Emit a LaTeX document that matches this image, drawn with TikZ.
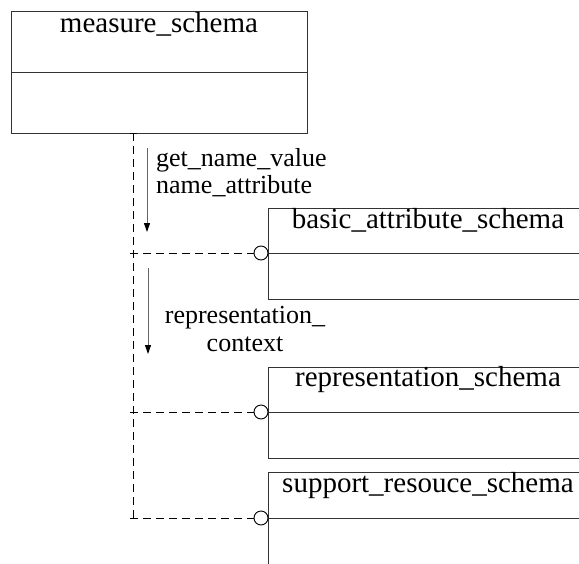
\documentclass[tikz,border=0pt]{standalone}
\usepackage{fontspec}
\setmainfont{Liberation Serif}
\usetikzlibrary{arrows.meta}
\begin{document}
\begin{tikzpicture}[x=1pt,y=-1pt,
  boxline/.style={draw=black!80,line width=0.9pt},
  title/.style={anchor=base,inner sep=0pt,font=\fontsize{29}{32}\selectfont},
  lbl/.style={inner sep=0pt,font=\fontsize{26}{30}\selectfont},
  dline/.style={draw=black,line width=0.9pt,dash pattern=on 8pt off 5pt},
  flow/.style={draw=black!60,line width=1pt,-{Triangle[length=9pt,width=6pt,black]}},
  lolly/.style={circle,draw=black,line width=0.9pt,fill=white,minimum size=14pt,inner sep=0pt}]
\useasboundingbox (0,0) rectangle (579,563);
\clip (0,0) rectangle (579,563);
% measure_schema
\node[boxline,rectangle,minimum width=296pt,minimum height=122pt,anchor=north west,inner sep=0pt] (ms) at (11,11) {};
\draw[boxline] (11,72) -- (307,72);
\node[title] (mst) at (159,32) {measure\_schema};
% basic_attribute_schema
\node[boxline,rectangle,minimum width=360pt,minimum height=91pt,anchor=north west,inner sep=0pt] (ba) at (268,208) {};
\draw[boxline] (268,253) coordinate (bal) -- (628,253);
\node[title] (bat) at (428,228) {basic\_attribute\_schema};
% representation_schema
\node[boxline,rectangle,minimum width=360pt,minimum height=91pt,anchor=north west,inner sep=0pt] (rs) at (268,367) {};
\draw[boxline] (268,412) coordinate (rsl) -- (628,412);
\node[title] (rst) at (428,386) {representation\_schema};
% support_resouce_schema
\node[boxline,rectangle,minimum width=360pt,minimum height=120pt,anchor=north west,inner sep=0pt] (ss) at (268,472) {};
\draw[boxline] (268,518) coordinate (ssl) -- (628,518);
\node[title] (sst) at (428,492) {support\_resouce\_schema};
% lollipops
\node[lolly] (c1) at (261,253) {};
\node[lolly] (c2) at (261,412) {};
\node[lolly] (c3) at (261,518) {};
% dashed connectors
\coordinate (top) at (133,133);
\coordinate (j1) at (133,253);
\coordinate (j2) at (133,412);
\coordinate (j3) at (133,518);
\draw[dline] (top) -- (j3);
\draw[line width=0.9pt] (129.5,133.5) -- (136.5,133.5);
\draw[dline] (130,253) -- (c1.west);
\draw[dline] (130,412) -- (c2.west);
\draw[dline] (130,518) -- (c3.west);
% flow arrows
\coordinate (a1s) at (147,148);
\coordinate (a1e) at (147,232);
\coordinate (a2s) at (148,268);
\coordinate (a2e) at (148,354);
\draw[flow] (a1s) -- (a1e);
\draw[flow] (a2s) -- (a2e);
\node[lbl,anchor=base west] (l1) at (156,166) {get\_name\_value};
\node[lbl,anchor=base west] (l2) at (156,193) {name\_attribute};
\node[lbl,anchor=base] (l3) at (245,323) {representation\_};
\node[lbl,anchor=base] (l4) at (245,351) {context};
\end{tikzpicture}
\end{document}
